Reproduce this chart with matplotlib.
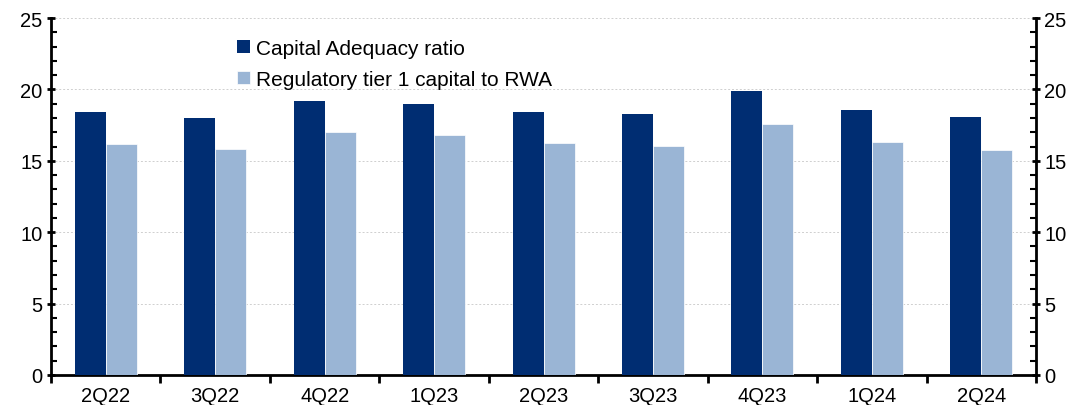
import matplotlib.pyplot as plt
import numpy as np
from matplotlib.ticker import MultipleLocator

plt.rcParams['font.family'] = ['Liberation Sans', 'DejaVu Sans']

quarters = ['2Q22', '3Q22', '4Q22', '1Q23', '2Q23', '3Q23', '4Q23', '1Q24', '2Q24']
car = [18.42, 18.0, 19.19, 18.98, 18.42, 18.28, 19.89, 18.56, 18.1]
tier1 = [16.18, 15.8, 17.02, 16.8, 16.25, 16.04, 17.58, 16.32, 15.78]

dark = '#002D72'
light = '#9AB5D5'

fig = plt.figure(figsize=(10.77, 4.06), dpi=100)
ax = fig.add_axes([0.0474, 0.074, 0.9146, 0.879])

x = np.arange(len(quarters))
w = 0.283
ax.bar(x - w / 2, car, w, color=dark, label='Capital Adequacy ratio', zorder=3)
ax.bar(x + w / 2, tier1, w, color=light, edgecolor='white', linewidth=0.5,
       label='Regulatory tier 1 capital to RWA', zorder=3)

ax.set_xlim(-0.5, len(quarters) - 0.5)
ax.set_ylim(0, 25)
ax.yaxis.set_major_locator(MultipleLocator(5))
ax.yaxis.set_minor_locator(MultipleLocator(1))
ax.grid(axis='y', color='#cfcfcf', linestyle=(0, (2, 2)), linewidth=0.7, zorder=0)

ax.set_xticks(x)
ax.set_xticklabels(quarters, fontsize=14.5)
ax.tick_params(axis='x', length=0, pad=8)
ax.set_xticks(np.arange(-0.5, len(quarters), 1), minor=True)
ax.tick_params(axis='x', which='minor', length=6, width=2, direction='out')

ax.spines['top'].set_visible(False)
for s in ['left', 'right', 'bottom']:
    ax.spines[s].set_linewidth(2)

ax.tick_params(axis='y', which='major', labelsize=14.5, length=6, width=2, direction='inout',
               left=True, right=True, labelleft=True, labelright=True, pad=3)
ax.tick_params(axis='y', which='minor', length=4, width=1.5, direction='in',
               left=True, right=True)

ax.legend(loc='upper left', bbox_to_anchor=(0.17, 0.995), frameon=False, fontsize=15,
          handlelength=0.6, handleheight=0.6, handletextpad=0.3, labelspacing=0.6)

fig.savefig('out.png', dpi=100)
